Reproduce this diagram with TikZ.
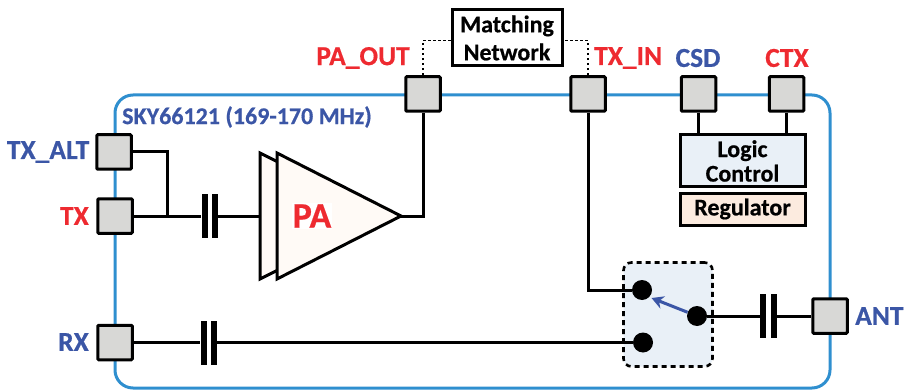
\documentclass[tikz,border=0pt]{standalone}
\usepackage{fontspec}
\setmainfont{Carlito}[BoldFeatures={FakeBold=0.5}]
\usetikzlibrary{arrows.meta,calc}
\definecolor{chipblue}{HTML}{2F8FCF}
\definecolor{lblblue}{HTML}{3B56A6}
\definecolor{lblred}{HTML}{EE2A30}
\definecolor{padgray}{HTML}{D8D8D6}
\definecolor{paleblue}{HTML}{E9F0F7}
\definecolor{palepeach}{HTML}{FCEBDF}
\definecolor{pafill}{HTML}{FFFAF6}
\tikzset{
  pad/.style={draw=black,fill=padgray,line width=3pt,rounded corners=1pt,minimum width=34.5pt,minimum height=34.5pt,inner sep=0pt},
  plate/.style={fill=black,inner sep=0pt,minimum width=6pt,minimum height=44pt},
  wire/.style={draw=black,line width=3pt},
  dotwire/.style={draw=black,line width=1.5pt,dash pattern=on 2.5pt off 2.5pt},
  contact/.style={circle,fill=black,inner sep=0pt,minimum size=20pt},
  blk/.style={draw=black,line width=3pt,inner sep=0pt,align=center,text=black},
  blbl/.style={font=\fontsize{27.5}{30}\selectfont\bfseries,text=lblblue,inner sep=0pt},
  rlbl/.style={font=\fontsize{27.5}{30}\selectfont\bfseries,text=lblred,inner sep=0pt},
  tri/.style={draw=black,fill=pafill,line width=3pt,line join=miter}
}
\begin{document}
\begin{tikzpicture}[x=1pt,y=-1pt]
\useasboundingbox (0,0) rectangle (904,390);
% chip outline
\draw[chipblue,line width=3pt,rounded corners=18pt] (115,95) rectangle (830,388);
\node[blbl,anchor=west,font=\fontsize{24}{26}\selectfont\bfseries] (title) at (122,117) {SKY66121 (169-170 MHz)};
% switch box
\node[draw=black,fill=paleblue,line width=2.6pt,dash pattern=on 5pt off 4pt,rounded corners=8pt,minimum width=89pt,minimum height=104pt,inner sep=0pt] (sw) at (668,314.5) {};
% pads
\node[pad] (txalt) at (114,152) {};
\node[pad] (tx) at (115,216) {};
\node[pad] (rx) at (115,342.5) {};
\node[pad] (paout) at (423,94) {};
\node[pad] (txin) at (588,94) {};
\node[pad] (csd) at (698.5,94) {};
\node[pad] (ctx) at (786.5,94) {};
\node[pad] (ant) at (830,316) {};
% blocks
\node[blk,font=\fontsize{24}{28}\selectfont\bfseries,minimum width=110pt,minimum height=56pt] (match) at (507,38) {Matching\\Network};
\node[blk,font=\fontsize{24}{24.5}\selectfont\bfseries,fill=paleblue,minimum width=125pt,minimum height=52pt] (logic) at (742.5,161) {Logic\\Control};
\node[blk,font=\fontsize{24}{26}\selectfont\bfseries,fill=palepeach,minimum width=125pt,minimum height=32pt] (reg) at (742.5,209) {Regulator};
% PA
\coordinate (paback) at (260,216);
\coordinate (pafront) at (277,216);
\coordinate (paapex) at (401,216);
\draw[tri] (260,153) -- (290,168) -- (290,264) -- (260,279) -- cycle;
\draw[tri] (277,153) -- (paapex) -- (277,279) -- cycle;
\node[font=\fontsize{36}{38}\selectfont\bfseries,text=lblred,fill=white,inner sep=1pt] (pa) at (312,216) {PA};
% capacitors
\node[plate] (c1a) at (204.5,216) {};
\node[plate] (c1b) at (214.5,216) {};
\node[plate] (c2a) at (203.5,342.5) {};
\node[plate] (c2b) at (213.5,342.5) {};
\node[plate] (c3a) at (763,316) {};
\node[plate] (c3b) at (773.5,316) {};
% contacts
\node[contact] (s1) at (642,290) {};
\node[contact] (s2) at (643,342.5) {};
\node[contact] (s3) at (697,316) {};
% wires
\coordinate (jn) at (167,216);
\draw[wire] (txalt.east) -| (jn);
\draw[wire] (tx.east) -- (c1a.west);
\draw[wire] (c1b.east) -- (paback);
\draw[wire] (rx.east) -- (c2a.west);
\draw[wire] (c2b.east) -- (s2.west);
\draw[wire] (paapex) -| (paout.south);
\draw[wire] (txin.south) |- (s1.west);
\draw[wire] (s3.east) -- (c3a.west);
\draw[wire] (c3b.east) -- (ant.west);
\draw[wire] (csd.south) -- (logic.north -| csd.south);
\draw[wire] (ctx.south) -- (logic.north -| ctx.south);
\draw[dotwire] (paout.north) |- (match.west |- 0,40.5);
\draw[dotwire] (txin.north) |- (match.east |- 0,40.5);
\draw[lblblue,line width=3pt,-{Stealth[length=12pt,width=13pt]}] (s3) -- (651.5,298);
% labels
\node[blbl,anchor=east] (ltxalt) at (89.5,152) {TX\_ALT};
\node[rlbl,anchor=east] (ltx) at (89,216) {TX};
\node[blbl,anchor=east] (lrx) at (89,342) {RX};
\node[blbl,anchor=west] (lant) at (855,316) {ANT};
\node[rlbl] (lpaout) at (363,58) {PA\_OUT};
\node[rlbl,anchor=west] (ltxin) at (594,58) {TX\_IN};
\node[blbl] (lcsd) at (698,58) {CSD};
\node[rlbl] (lctx) at (787,58) {CTX};
\end{tikzpicture}
\end{document}
